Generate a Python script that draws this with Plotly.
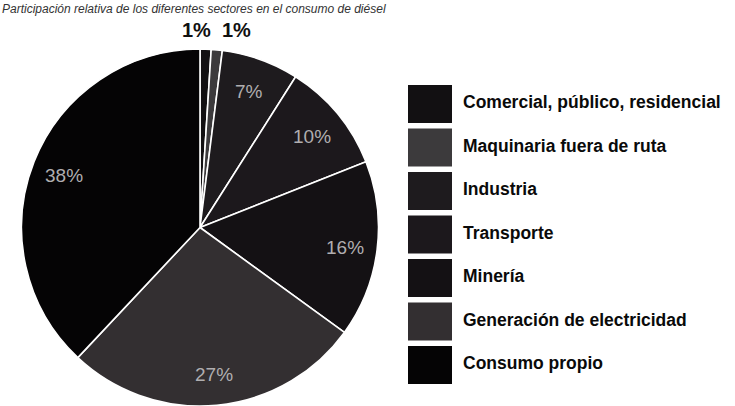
import math
import plotly.graph_objects as go

# Sector shares (%), clockwise from 12 o'clock
sectors = [
    "Comercial, público, residencial",
    "Maquinaria fuera de ruta",
    "Industria",
    "Transporte",
    "Minería",
    "Generación de electricidad",
    "Consumo propio",
]
shares = [1, 1, 7, 10, 16, 27, 38]
colors = ["#121012", "#3c3a3c", "#1e1b1e", "#1c181c", "#141114", "#332f31", "#050405"]

W, H = 735, 406
CX, CY, R = 200, 229, 180  # pie centre / radius in pixels

fig = go.Figure()
fig.add_trace(go.Pie(
    labels=sectors,
    values=shares,
    sort=False,
    direction="clockwise",
    rotation=0,
    marker=dict(colors=colors, line=dict(color="white", width=1.6)),
    textinfo="none",
    hoverinfo="label+percent",
    showlegend=False,
    domain=dict(x=[(CX - R) / W, (CX + R) / W],
                y=[max(0, (H - CY - R) / H), (H - CY + R) / H]),
))

def px(x, y):
    return x / W, 1 - y / H

annotations = []
total = sum(shares)
cum = 0
small = []
for name, v in zip(sectors, shares):
    mid = (cum + v / 2) / total * 2 * math.pi
    cum += v
    if v / total < 0.03:
        small.append(v)
        continue
    x, y = px(CX + 0.81 * R * math.sin(mid), CY - 0.81 * R * math.cos(mid))
    annotations.append(dict(
        x=x, y=y, xref="paper", yref="paper", text=f"{v}%", showarrow=False,
        xanchor="center", yanchor="middle",
        font=dict(family="Arial", size=19, color="#b0aeb0"),
    ))

# labels for the thin slices sit in a row above the pie
row_x0 = 197
for i, v in enumerate(small):
    x, y = px(row_x0 + 40 * i, 30)
    annotations.append(dict(
        x=x, y=y, xref="paper", yref="paper", text=f"<b>{v}%</b>", showarrow=False,
        xanchor="center", yanchor="middle",
        font=dict(family="Arial", size=20, color="#111111"),
    ))

# legend: large square swatches with bold labels
shapes = []
for i, (name, c) in enumerate(zip(sectors, colors)):
    top = 85 + i * 43.5
    x0, y0 = px(408, top)
    x1, y1 = px(452, top + 38)
    shapes.append(dict(type="rect", xref="paper", yref="paper", x0=x0, x1=x1, y0=y1, y1=y0,
                       fillcolor=c, line=dict(width=0), layer="above"))
    tx, ty = px(461, top + 17)
    annotations.append(dict(
        x=tx, y=ty, xref="paper", yref="paper", text=f"<b>{name}</b>", showarrow=False,
        xanchor="left", yanchor="middle",
        font=dict(family="Arial", size=17.5, color="#0a0a0a"),
    ))

# figure caption along the top edge
annotations.append(dict(
    x=0, y=1, xref="paper", yref="paper", xanchor="left", yanchor="top",
    text="<i>Participación relativa de los diferentes sectores en el consumo de diésel</i>",
    showarrow=False, font=dict(family="Arial", size=12, color="#333333"),
))

fig.update_layout(
    width=W, height=H,
    margin=dict(l=0, r=0, t=0, b=0),
    paper_bgcolor="white", plot_bgcolor="white",
    shapes=shapes, annotations=annotations,
)

fig.write_html("out.html")
